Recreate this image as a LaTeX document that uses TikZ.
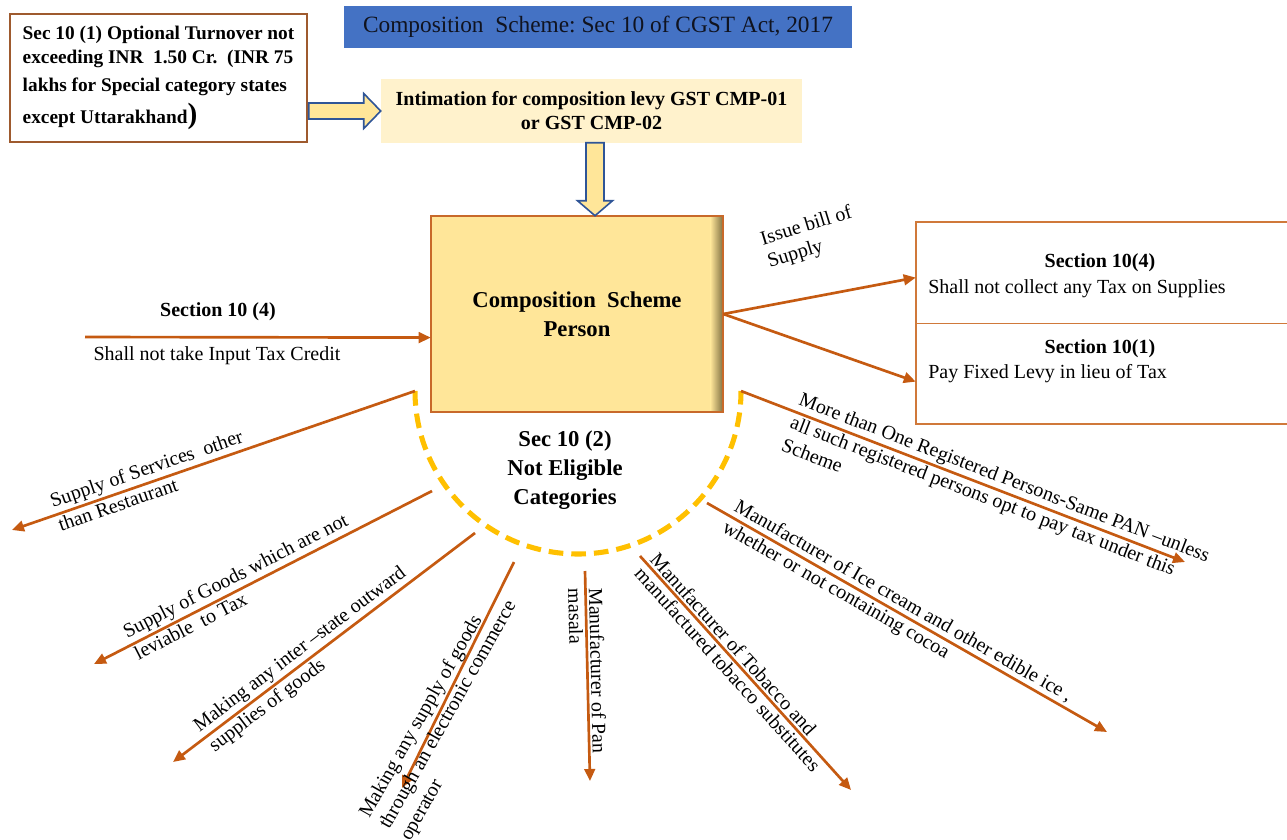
\documentclass[tikz,border=0pt]{standalone}
\usepackage{fontspec}
\setmainfont{Liberation Serif}
\usetikzlibrary{arrows.meta,calc}

\definecolor{titleblue}{HTML}{4472C4}
\definecolor{titletext}{HTML}{10131F}
\definecolor{arrowline}{HTML}{C55A11}
\definecolor{boxbrown}{HTML}{9E5A2E}
\definecolor{mainline}{HTML}{C8692A}
\definecolor{rboxline}{HTML}{D0793A}
\definecolor{gold}{HTML}{FFE699}
\definecolor{paleyellow}{HTML}{FFF2CC}
\definecolor{arcgold}{HTML}{FFC000}
\definecolor{navyline}{HTML}{2F5597}
\definecolor{shadeolive}{HTML}{7D6E40}

\newcommand\lblfont{\fontsize{15}{18}\selectfont}
\newcommand\hdfont{\fontsize{15}{18}\selectfont\bfseries}
\newcommand\bigfont{\fontsize{17}{21.75}\selectfont\bfseries}

\begin{document}
\begin{tikzpicture}[x=0.75pt,y=-0.75pt,
  conn/.style={draw=arrowline, line width=2pt, -{Triangle[length=9pt,width=8pt]}},
  up/.style={sloped, anchor=south west, inner sep=1.5pt, font=\lblfont},
  dn/.style={sloped, anchor=north west, inner sep=1.5pt, font=\lblfont, align=left},
  lbl/.style={inner sep=0pt, font=\lblfont},
  hd/.style={inner sep=0pt, font=\hdfont},
  blockarrow/.style={draw=navyline, fill=gold, line width=1.2pt, line join=miter},
  titlebox/.style={fill=titleblue, text=titletext, inner sep=0pt,
    font=\fontsize{17.5}{21}\selectfont},
  tlbox/.style={draw=boxbrown, line width=1.5pt, fill=white, inner sep=0pt,
    align=left, font=\fontsize{14.5}{18}\selectfont\bfseries},
  intbox/.style={fill=paleyellow, inner sep=0pt, align=center,
    font=\fontsize{15}{18}\selectfont\bfseries},
  mainbox/.style={fill=gold, inner sep=0pt, align=center, font=\bigfont},
  rbox/.style={inner sep=0pt},
  dasharc/.style={draw=arcgold, line width=3.8pt, dash pattern=on 11pt off 6pt}
]
\useasboundingbox (0,0) rectangle (1287,839);

% ---- title and the top row ----
\node[titlebox, minimum width=381pt, minimum height=31.5pt] (title) at (598,27)
  {Composition\ \ Scheme:\ Sec 10 of CGST Act, 2017};

\node[tlbox, minimum width=222.75pt, minimum height=96pt] (tl) at (158.5,78)
  {Sec 10 (1) Optional Turnover not\\
   exceeding INR\ \ 1.50 Cr.\ \ (INR 75\\[3pt]
   lakhs for Special category states\\[5pt]
   except Uttarakhand{\fontsize{22}{22}\selectfont)}};

\node[intbox, minimum width=315.75pt, minimum height=48pt] (int) at (591.5,111)
  {Intimation for composition levy GST CMP-01\\or GST CMP-02};

% ---- central box with its shaded right edge ----
\node[mainbox, minimum width=219pt, minimum height=147pt] (main) at (577,314)
  {Composition\ \ Scheme\\Person};
\shade[left color=gold, right color=shadeolive]
  ($(main.north east)+(-13,0)$) rectangle (main.south east);
\draw[mainline, line width=1.2pt] (main.north west) rectangle (main.south east);

% ---- block arrows ----
\coordinate (rtip) at (int.west);
\draw[blockarrow] ($(rtip)+(-72,-8)$) -- ($(rtip)+(-17,-8)$) -- ($(rtip)+(-17,-17.5)$)
  -- (rtip) -- ($(rtip)+(-17,17.5)$) -- ($(rtip)+(-17,8)$) -- ($(rtip)+(-72,8)$) -- cycle;

\coordinate (dtip) at ($(main.north)+(18,0)$);
\draw[blockarrow] ($(dtip)+(-9,-73)$) -- ($(dtip)+(9,-73)$) -- ($(dtip)+(9,-15)$)
  -- ($(dtip)+(17.5,-15)$) -- (dtip) -- ($(dtip)+(-17.5,-15)$) -- ($(dtip)+(-9,-15)$) -- cycle;

% ---- right-hand boxes ----
\node[rbox, minimum width=284.25pt, minimum height=75.75pt] (rb1) at (1105.5,272.5) {};
\node[rbox, minimum width=284.25pt, minimum height=75.75pt] (rb2) at (1105.5,373.5) {};
\draw[rboxline, line width=1.5pt] (rb1.north east) -- (rb1.north west) -- (rb2.south west) -- (rb2.south east);
\draw[rboxline, line width=0.9pt] (rb1.south west) -- (rb1.south east);

\node[hd] (rb1h) at (1100,263) {Section 10(4)};
\node[lbl, anchor=west] (rb1t) at (928,289) {Shall not collect any Tax on Supplies};
\node[hd] (rb2h) at (1100,349) {Section 10(1)};
\node[lbl, anchor=west] (rb2t) at (928,374) {Pay Fixed Levy in lieu of Tax};

\coordinate (t1) at ($(rb1.south west)!0.45!(rb1.north west)$);
\coordinate (t2) at ($(rb2.south west)!0.42!(rb2.north west)$);
\draw[conn] (main.east) -- (t1);
\draw[conn] (main.east) -- (t2);
\node[lbl, rotate=17, align=left] (bill) at (810,238) {Issue bill of\\Supply};

% ---- input tax credit arrow ----
\coordinate (lstart) at (85,337);
\coordinate (lend) at ($(main.south west)!0.38!(main.north west)$);
\draw[conn] (lstart) -- (lend);
\node[hd] (l4h) at (218,312) {Section 10 (4)};
\node[lbl] (l4t) at (217,356) {Shall not take Input Tax Credit};

% ---- not eligible categories ----
\coordinate (arcC) at (578,391);
\coordinate (arcL) at (415,391);
\coordinate (arcR) at (741,391);
\draw[dasharc] (arcL) arc[start angle=180, end angle=0, radius=163];
\node[align=center, inner sep=0pt, font=\bigfont] (ne) at (565,470)
  {Sec 10 (2)\\Not Eligible\\Categories};

\coordinate (s2) at (432,491);  \coordinate (e1) at (12,530);
\coordinate (s3) at (475,533);  \coordinate (e2) at (94,664);
\coordinate (s4) at (514,562);  \coordinate (e3) at (173,762);
\coordinate (s5) at (585,571);  \coordinate (e4) at (402,788);
\coordinate (s6) at (640,556);  \coordinate (e5) at (590,781);
\coordinate (s7) at (707,503);  \coordinate (e6) at (851,790);
                                \coordinate (e7) at (1107,732);
                                \coordinate (e8) at (1185,562);

\draw[conn] (arcL) -- node[up, pos=0.90] (c1a) {Supply of Services\ \ other}
                      node[dn, pos=0.90] (c1b) {than Restaurant} (e1);
\draw[conn] (s2) -- node[up, pos=0.90] (c2a) {Supply of Goods which are not}
                    node[dn, pos=0.90] (c2b) {leviable\ \ to Tax} (e2);
\draw[conn] (s3) -- node[up, pos=0.905] (c3a) {Making any inter –state outward}
                    node[dn, pos=0.905] (c3b) {supplies of goods} (e3);
\draw[conn] (s4) -- (e4);
\coordinate (p4) at (374,824);
\node[lbl, rotate=60.5, anchor=south west, inner sep=1.5pt] (c4a) at (p4) {Making any supply of goods};
\node[lbl, rotate=60.5, anchor=north west, inner sep=1.5pt, align=left] (c4b) at (p4)
  {through an electronic commerce\\operator};
\draw[conn] (s5) -- node[up, pos=0.067] (c5a) {Manufacturer of Pan}
                    node[dn, pos=0.067] (c5b) {masala} (e5);
\draw[conn] (s6) -- node[up, pos=0.02] (c6a) {Manufacturer of Tobacco and}
                    node[dn, pos=0.02] (c6b) {manufactured tobacco substitutes} (e6);
\draw[conn] (s7) -- node[up, pos=0.05] (c7a) {Manufacturer of Ice cream and other edible ice ,}
                    node[dn, pos=0.05] (c7b) {whether or not containing cocoa} (e7);
\draw[conn] (arcR) -- node[up, pos=0.115] (c8a) {More than One Registered Persons-Same PAN –unless}
                      node[dn, pos=0.115] (c8b) {all such registered persons opt to pay tax under this\\Scheme} (e8);
\end{tikzpicture}
\end{document}
